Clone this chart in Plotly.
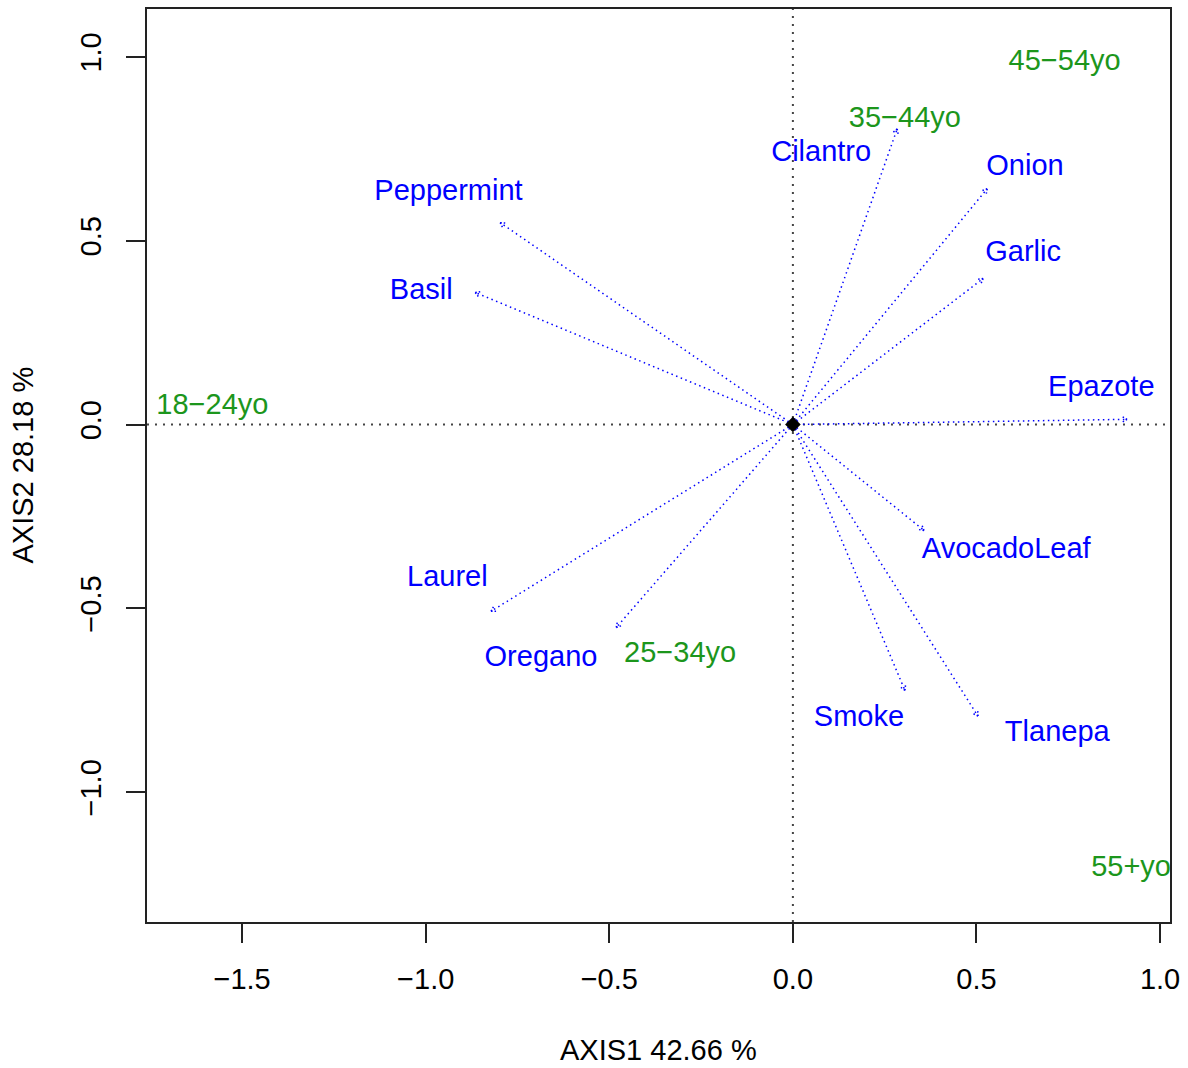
import math
import plotly.graph_objects as go

# Herb (column) scores: arrow tips
herbs = ["Peppermint", "Basil", "Cilantro", "Onion", "Garlic", "Epazote",
         "AvocadoLeaf", "Tlanepa", "Smoke", "Oregano", "Laurel"]
herb_x = [-0.797, -0.865, 0.284, 0.529, 0.518, 0.910, 0.357, 0.504, 0.305, -0.481, -0.822]
herb_y = [0.549, 0.359, 0.804, 0.641, 0.397, 0.014, -0.288, -0.793, -0.723, -0.552, -0.508]
# Herb label positions
herb_lx = [-0.938, -1.012, 0.077, 0.632, 0.627, 0.840, 0.581, 0.720, 0.180, -0.686, -0.941]
herb_ly = [0.630, 0.361, 0.736, 0.698, 0.464, 0.097, -0.343, -0.840, -0.799, -0.636, -0.419]

# Age group (row) positions
ages = ["45\u221254yo", "35\u221244yo", "18\u221224yo", "25\u221234yo", "55+yo"]
age_x = [0.740, 0.305, -1.581, -0.307, 0.921]
age_y = [0.983, 0.828, 0.048, -0.626, -1.207]

x_ticks = [-1.5, -1.0, -0.5, 0.0, 0.5, 1.0]
y_ticks = [-1.0, -0.5, 0.0, 0.5, 1.0]
x_range = [-1.759, 1.027]
y_range = [-1.353, 1.130]

BLUE = "#0000FF"
GREEN = "#1C961C"
FONT = "Liberation Sans, Arial, Helvetica, sans-serif"

fig = go.Figure()

# reference lines through origin
fig.add_trace(go.Scatter(x=[x_range[0], x_range[1], None, 0, 0],
                         y=[0, 0, None, y_range[0], y_range[1]],
                         mode="lines", line=dict(color="#444444", width=2, dash="2px,6px"),
                         hoverinfo="skip", showlegend=False))

# arrows shafts
ax, ay = [], []
for x, y in zip(herb_x, herb_y):
    ax += [0, x, None]
    ay += [0, y, None]
fig.add_trace(go.Scatter(x=ax, y=ay, mode="lines",
                         line=dict(color=BLUE, width=1.5, dash="1.5px,3.5px"),
                         hoverinfo="skip", showlegend=False))

# arrow heads
hx, hy = [], []
L = 0.017
for x, y in zip(herb_x, herb_y):
    th = math.atan2(y, x)
    for s in (1, -1):
        a = th + math.pi + s * math.pi / 6
        hx += [x, x + L * math.cos(a), None]
        hy += [y, y + L * math.sin(a), None]
fig.add_trace(go.Scatter(x=hx, y=hy, mode="lines",
                         line=dict(color=BLUE, width=1.5, dash="1.5px,2px"),
                         hoverinfo="skip", showlegend=False))

# origin marker
fig.add_trace(go.Scatter(x=[0], y=[0], mode="markers",
                         marker=dict(symbol="diamond", size=12, color="black"),
                         hoverinfo="skip", showlegend=False))

# herb labels
fig.add_trace(go.Scatter(x=herb_lx, y=herb_ly, mode="text", text=herbs,
                         textposition="middle center",
                         textfont=dict(color=BLUE, size=29, family=FONT),
                         hoverinfo="skip", showlegend=False))

# age labels
fig.add_trace(go.Scatter(x=age_x, y=age_y, mode="text", text=ages,
                         textposition="middle center",
                         textfont=dict(color=GREEN, size=29, family=FONT),
                         hoverinfo="skip", showlegend=False, cliponaxis=True))

fig.update_layout(
    width=1188, height=1068,
    margin=dict(l=147, r=18, t=7, b=146),
    plot_bgcolor="white", paper_bgcolor="white",
    font=dict(family=FONT, color="black", size=29),
    showlegend=False,
    annotations=[
        dict(text="AXIS1 42.66 %", xref="paper", yref="paper", x=0.5, y=0,
             xanchor="center", yanchor="middle", yshift=-128, showarrow=False,
             font=dict(size=29, family=FONT, color="black")),
        dict(text="AXIS2 28.18 %", xref="paper", yref="paper", x=0, y=0.5,
             xanchor="center", yanchor="middle", xshift=-125, textangle=-90,
             showarrow=False, font=dict(size=29, family=FONT, color="black")),
    ],
)
fig.update_xaxes(range=x_range, tickvals=x_ticks,
                 ticktext=[f"{v:.1f}".replace("-", "\u2212") for v in x_ticks],
                 showgrid=False, zeroline=False, showline=True, linecolor="#222222",
                 linewidth=2, mirror=True, ticks="outside", ticklen=19, tickwidth=2,
                 tickcolor="#222222", ticklabelstandoff=11,
                 tickfont=dict(size=29, family=FONT, color="black"))
fig.update_yaxes(range=y_range, tickvals=y_ticks,
                 ticktext=[f"{v:.1f}".replace("-", "\u2212") for v in y_ticks],
                 showgrid=False, zeroline=False, showline=True, linecolor="#222222",
                 linewidth=2, mirror=True, ticks="outside", ticklen=19, tickwidth=2,
                 tickcolor="#222222", tickangle=-90, ticklabelstandoff=13,
                 tickfont=dict(size=29, family=FONT, color="black"))

fig.write_html("out.html")
